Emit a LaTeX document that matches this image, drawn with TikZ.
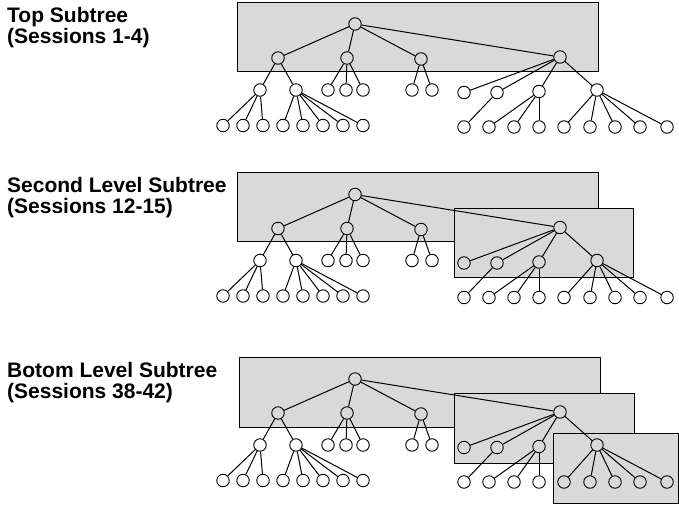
\documentclass[tikz,border=0pt]{standalone}
\usepackage{fontspec}
\setmainfont{Liberation Sans}
\usepackage{tikz}

\begin{document}
\begin{tikzpicture}[x=1pt,y=-1pt,
  vtx/.style={circle,draw,line width=.9pt,minimum size=12.5pt,inner sep=0pt},
  box/.style={draw,line width=.9pt,fill=gray!30},
  lbl/.style={anchor=north west,inner sep=0pt,align=left,
   font=\fontsize{21}{21}\selectfont\bfseries}]
 \useasboundingbox (0,0) rectangle (679,506);
 % gray subtree boxes
 \draw[box] (237,2) rectangle (598,71);
 \draw[box] (237,172.5) rectangle (598,241.5);
 \draw[box] (454,208.3) rectangle (633.3,277.7);
 \draw[box] (239,357) rectangle (600,427);
 \draw[box] (454,393.3) rectangle (634,463.3);
 \draw[box] (553,433) rectangle (678.3,503);
 \node[lbl] (top) at (7,7.5) {Top Subtree\\(Sessions 1-4)};
 \node[lbl] (second) at (7,177) {Second Level Subtree\\(Sessions 12-15)};
 \node[lbl] (bottom) at (7,362.5) {Botom Level Subtree\\(Sessions 38-42)};
 % the same tree three times
 \foreach \dy in {0,170.5,355}{
 \begin{scope}[shift={(0,\dy)},line width=1pt]
  \node[vtx] (r) at (355,24) {};
  \foreach \n/\x/\y in {a/278/58,b/347/58,c/421/59,d/560/57}{
   \node[vtx] (\n) at (\x,\y) {};
   \draw (r) -- (\n);
  }
  \foreach \n/\p/\x/\y in {a1/a/260/90,a2/a/296/90,b1/b/328/90,b2/b/346/90,
    b3/b/363/90,c1/c/412/90,c2/c/432/90,d1/d/464/92.5,d2/d/497/92.5,
    d3/d/539/91.5,d4/d/597/90}{
   \node[vtx] (\n) at (\x,\y) {};
   \draw (\p) -- (\n);
  }
  \foreach \p/\x/\y in {a1/223/125.5,a1/243/125.5,a1/263/125.5,a2/283/125.5,
    a2/303/125.5,a2/323/125.5,a2/343/125.5,a2/363/125.5,d2/464/127,
    d3/489/127,d3/514/127,d3/539/127,d4/564/127,d4/590/127,d4/615/127,
    d4/640/127,d4/667/127}{
   \node[vtx] (\p-\x) at (\x,\y) {};
   \draw (\p) -- (\p-\x);
  }
 \end{scope}
 }
\end{tikzpicture}
\end{document}
